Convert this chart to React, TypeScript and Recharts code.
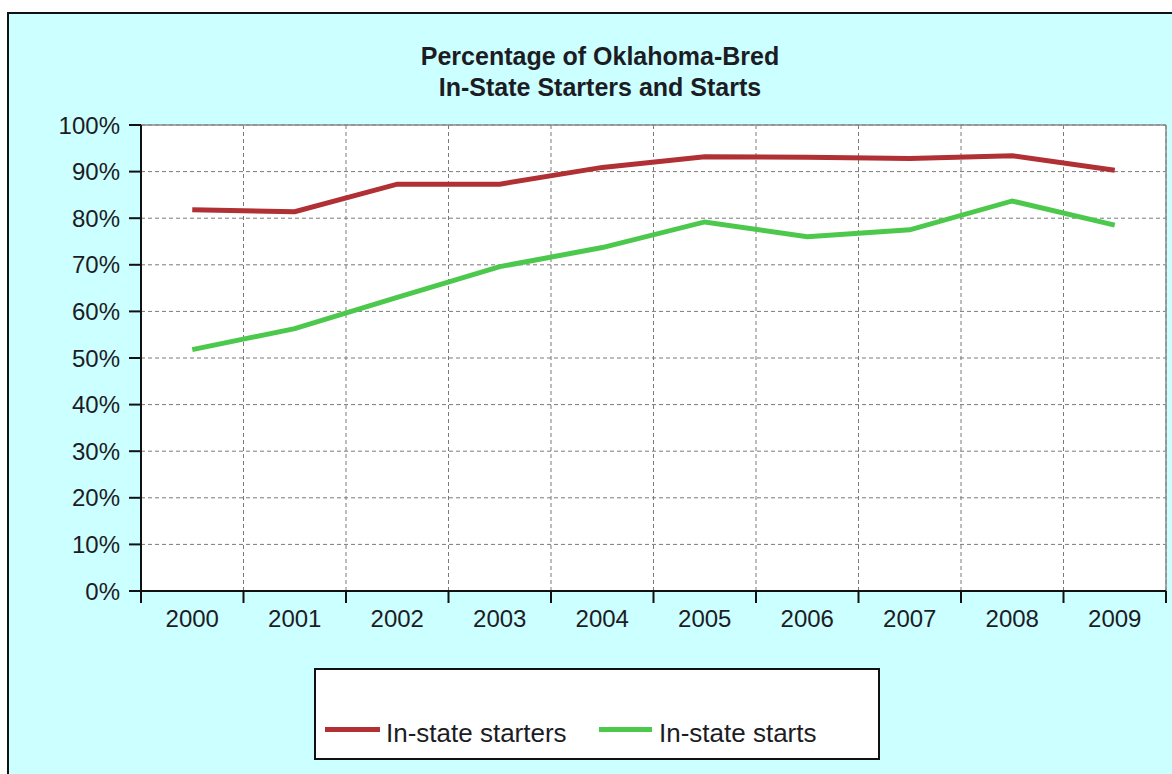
import React from 'react';
import { LineChart, Line, XAxis, YAxis, CartesianGrid, Legend, ReferenceLine } from 'recharts';

const years = ['2000', '2001', '2002', '2003', '2004', '2005', '2006', '2007', '2008', '2009'];
const starters = [81.8, 81.4, 87.3, 87.3, 90.9, 93.2, 93.1, 92.8, 93.4, 90.3];
const starts = [51.8, 56.3, 63.0, 69.6, 73.7, 79.2, 76.0, 77.5, 83.7, 78.5];
const yTicks = [0, 10, 20, 30, 40, 50, 60, 70, 80, 90, 100];
const titleLines = ['Percentage of Oklahoma-Bred', 'In-State Starters and Starts'];
const seriesNames = ['In-state starters', 'In-state starts'];
const seriesColors = ['#B03034', '#4CC94C'];

const data = years.map((year, idx) => ({ idx, year, starters: starters[idx], starts: starts[idx] }));
const boundaryTicks = [-0.5, ...years.map((_, i) => i + 0.5)];
const centerTicks = years.map((_, i) => i);

const FONT = '"Liberation Sans", Arial, sans-serif';
const TEXT = '#1c1c24';

const LegendBox = (props: any) => {
  const payload = props.payload || [];
  const offsets = [[9, 70], [283, 343]];
  return (
    <div style={{ position: 'relative', width: 566, height: 92, boxSizing: 'border-box', border: '2px solid #111', background: '#ffffff', fontFamily: FONT }}>
      {payload.map((p: any, i: number) => (
        <React.Fragment key={p.value}>
          <div style={{ position: 'absolute', left: offsets[i][0], top: 57, width: i === 0 ? 55 : 53, height: 5, background: p.color }} />
          <div style={{ position: 'absolute', left: offsets[i][1], top: 48, fontSize: 26, lineHeight: '30px', color: TEXT, whiteSpace: 'nowrap' }}>{p.value}</div>
        </React.Fragment>
      ))}
    </div>
  );
};

export default function App() {
  return (
    <div style={{ position: 'absolute', left: 0, top: 0, width: 1172, height: 774, overflow: 'hidden' }}>
      <div style={{ position: 'absolute', left: 7, top: 12, width: 1165, height: 762, boxSizing: 'border-box', borderLeft: '2px solid #111', borderTop: '2px solid #111', background: '#CCFFFF' }} />
      <div style={{ position: 'absolute', left: 0, top: 41, width: 1200, textAlign: 'center', fontFamily: FONT, fontWeight: 'bold', fontSize: 25, lineHeight: '31px', color: TEXT }}>
        {titleLines.map((t) => (<div key={t}>{t}</div>))}
      </div>
      <div style={{ position: 'absolute', left: 0, top: 0 }}>
        <LineChart width={1172} height={774} data={data} margin={{ top: 125, right: 6, bottom: 131, left: 41 }}>
          <CartesianGrid xAxisId="a" stroke="#7a7a7a" strokeDasharray="4 3" fill="#ffffff" fillOpacity={1} />
          <ReferenceLine y={100} xAxisId="a" stroke="#8a8a8a" strokeWidth={1.5} />
          <ReferenceLine x={9.5} xAxisId="a" stroke="#8a8a8a" strokeWidth={1.5} />
          <XAxis xAxisId="a" dataKey="idx" type="number" domain={[-0.5, 9.5]} ticks={boundaryTicks} allowDataOverflow
            height={12} tickSize={12} tickFormatter={() => ''} axisLine={{ stroke: '#111', strokeWidth: 2 }} tickLine={{ stroke: '#111', strokeWidth: 2 }} interval={0} />
          <XAxis xAxisId="b" dataKey="idx" type="number" domain={[-0.5, 9.5]} ticks={centerTicks} allowDataOverflow
            height={40} tickSize={0} tickMargin={7} axisLine={false} tickLine={false} interval={0}
            tickFormatter={(v: number) => years[v]} tick={{ fill: TEXT, fontSize: 24, fontFamily: FONT }} />
          <YAxis type="number" domain={[0, 100]} ticks={yTicks} width={100} tickSize={12} tickMargin={9} interval={0}
            tickFormatter={(v: number) => `${v}%`} axisLine={{ stroke: '#111', strokeWidth: 2 }} tickLine={{ stroke: '#111', strokeWidth: 2 }}
            tick={{ fill: TEXT, fontSize: 24, fontFamily: FONT }} />
          <Legend layout="horizontal" verticalAlign="middle" align="center" content={<LegendBox />}
            wrapperStyle={{ position: 'absolute', left: 314, top: 668, width: 566, height: 92 }} />
          <Line xAxisId="a" type="linear" dataKey="starters" name={seriesNames[0]} stroke={seriesColors[0]} strokeWidth={5} dot={false} isAnimationActive={false} />
          <Line xAxisId="a" type="linear" dataKey="starts" name={seriesNames[1]} stroke={seriesColors[1]} strokeWidth={5} dot={false} isAnimationActive={false} />
        </LineChart>
      </div>
    </div>
  );
}
